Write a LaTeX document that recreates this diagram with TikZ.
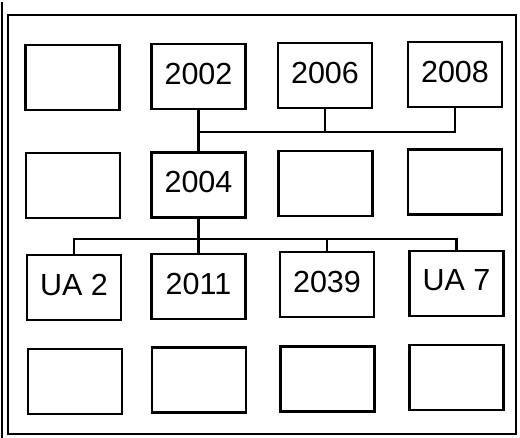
\documentclass[tikz,border=0pt]{standalone}
\usepackage{fontspec}
\setmainfont{Liberation Sans}
\begin{document}
\begin{tikzpicture}[x=1pt,y=-1pt,
  cell/.style={draw,line width=2.9pt,inner sep=0pt,minimum width=94pt,minimum height=65pt,
    font=\fontsize{30.5}{36}\selectfont,text depth=6pt},
  wire/.style={line width=2.6pt},
  frame/.style={line width=2.6pt}]
\useasboundingbox (0,0) rectangle (520,438);
\draw[frame] (8,15) rectangle (516,434);
\draw[line width=2.2pt] (2,2) -- (2,438);
% row 1
\node[cell] (a1) at (72.5,77.5) {};
\node[cell] (a2) at (198.5,76.5) {2002};
\node[cell] (a3) at (325,75.5) {2006};
\node[cell] (a4) at (455,74.5) {2008};
% row 2
\node[cell] (b1) at (73,185.5) {};
\node[cell] (b2) at (198.5,185) {2004};
\node[cell] (b3) at (325.5,183.5) {};
\node[cell] (b4) at (455,182) {};
% row 3
\node[cell] (c1) at (74,287.5) {UA 2};
\node[cell] (c2) at (198.5,286.5) {2011};
\node[cell] (c3) at (327,284.5) {2039};
\node[cell] (c4) at (456.5,283.5) {UA 7};
% row 4
\node[cell] (d1) at (75,381.5) {};
\node[cell] (d2) at (199,380) {};
\node[cell] (d3) at (327.5,379) {};
\node[cell] (d4) at (456.5,377.5) {};
% top connectors
\coordinate (tj) at (198.5,132);
\draw[wire] (a2.south) -- (b2.north);
\draw[wire] (a4.south) |- (tj);
\draw[wire] (a3.south) |- (tj);
% bottom connectors
\coordinate (bj) at (198.5,239);
\draw[wire] (b2.south) -- (c2.north);
\draw[wire] (c1.north) |- (bj);
\draw[wire] (c4.north) |- (bj);
\draw[wire] (c3.north) |- (bj);
\end{tikzpicture}
\end{document}
